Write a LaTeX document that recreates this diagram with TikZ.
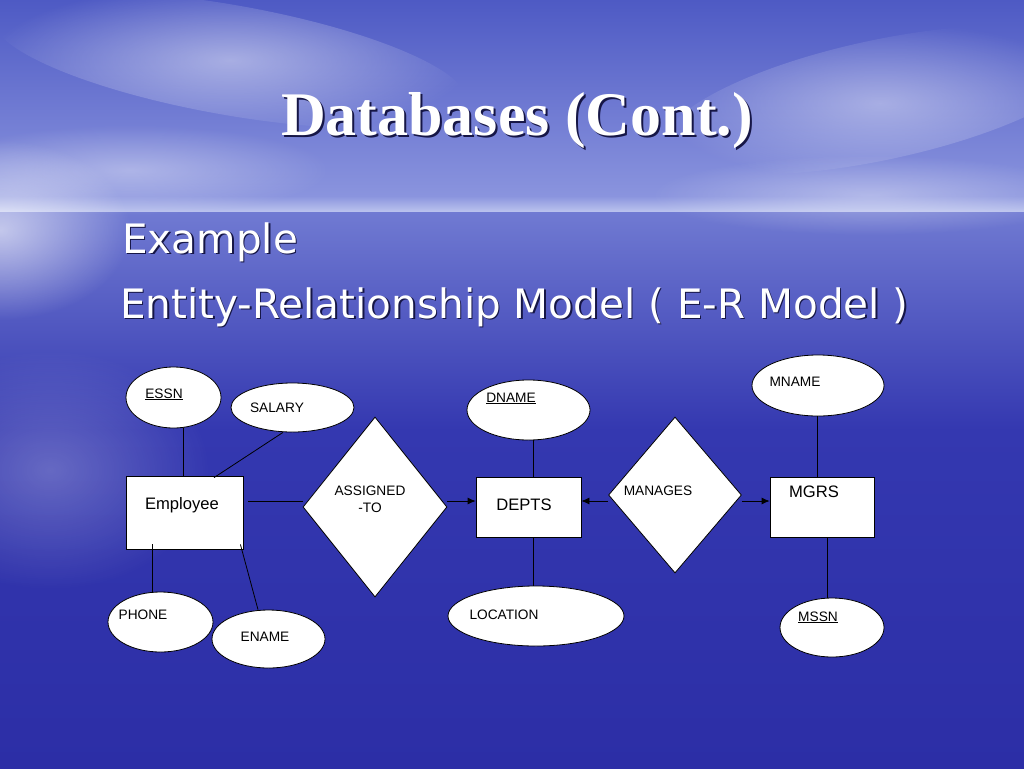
\documentclass[tikz,border=0pt]{standalone}
\usepackage{fontspec}
\setmainfont{Liberation Sans}
\newfontfamily\titlefont{Liberation Serif}
\newfontfamily\bodyfont{DejaVu Sans}
\usetikzlibrary{shapes.geometric,arrows.meta,fadings}
\tikzfading[name=soft,inner color=transparent!0,outer color=transparent!100]
\definecolor{skytop}{RGB}{78,90,196}
\definecolor{skylow}{RGB}{138,148,222}
\definecolor{horizon}{RGB}{188,196,238}
\definecolor{seatop}{RGB}{112,122,210}
\definecolor{seamid}{RGB}{52,56,176}
\definecolor{seadeep}{RGB}{44,46,166}
\definecolor{shade}{RGB}{22,22,70}
\tikzset{
  attr/.style={draw=black,fill=white,ellipse,inner sep=0pt,line width=0.8pt},
  entity/.style={draw=black,fill=white,rectangle,inner sep=0pt,line width=0.8pt},
  rel/.style={draw=black,fill=white,diamond,inner sep=0pt,line width=0.8pt},
  lbl/.style={anchor=base,inner sep=0pt,font=\fontsize{13.7}{14}\selectfont},
  big/.style={anchor=base,inner sep=0pt,font=\fontsize{16.6}{17}\selectfont},
  link/.style={draw=black,line width=0.8pt},
  flow/.style={link,-{Latex[length=8pt,width=7pt]}},
  cloud/.style={fill=white,path fading=soft}
}
\begin{document}
\begin{tikzpicture}[x=1pt,y=-1pt]
\useasboundingbox (0,0) rectangle (1024,768);
\shade [top color=skytop,bottom color=skylow] (0,0) rectangle (1024,196);
\shade [top color=skylow,bottom color=horizon] (0,196) rectangle (1024,212);
\shade [top color=seatop,bottom color=seamid] (0,212) rectangle (1024,430);
\shade [top color=seamid,bottom color=seadeep] (0,430) rectangle (1024,768);
\fill [cloud,opacity=0.45,rotate around={-10:(230,60)}] (230,60) ellipse (240 and 55);
\fill [cloud,opacity=0.4,rotate around={12:(880,100)}] (880,100) ellipse (220 and 60);
\fill [cloud,opacity=0.35] (130,170) ellipse (200 and 45);
\fill [cloud,opacity=0.35] (870,195) ellipse (220 and 40);
\fill [cloud,opacity=0.6] (0,230) ellipse (130 and 90);
\fill [cloud,opacity=0.25] (50,470) ellipse (160 and 120);

\node [anchor=base,text=shade,font=\titlefont\bfseries\fontsize{62}{62}\selectfont] (titles) at (519,137) {Databases (Cont.)};
\node [anchor=base,text=white,font=\titlefont\bfseries\fontsize{62}{62}\selectfont] (title) at (517,135) {Databases (Cont.)};
\node [anchor=base west,inner sep=0pt,text=shade,font=\bodyfont\fontsize{40.5}{40.5}\selectfont] (exs) at (123.5,254.5) {Example};
\node [anchor=base west,inner sep=0pt,text=white,font=\bodyfont\fontsize{40.5}{40.5}\selectfont] (ex) at (122,253) {Example};
\node [anchor=base west,inner sep=0pt,text=shade,font=\bodyfont\fontsize{40.5}{40.5}\selectfont] (ers) at (121.5,319.5) {Entity-Relationship Model ( E-R Model )};
\node [anchor=base west,inner sep=0pt,text=white,font=\bodyfont\fontsize{40.5}{40.5}\selectfont] (er) at (120,318) {Entity-Relationship Model ( E-R Model )};

\coordinate (row) at (0,501);
\node [attr,minimum width=95,minimum height=61] (essn) at (173.5,397.5) {};
\node [attr,minimum width=123,minimum height=49] (salary) at (292.5,407.5) {};
\node [attr,minimum width=105,minimum height=60] (phone) at (160.5,622) {};
\node [attr,minimum width=113,minimum height=58] (ename) at (268.5,639) {};
\node [attr,minimum width=123,minimum height=60] (dname) at (528.5,410) {};
\node [attr,minimum width=176,minimum height=60] (location) at (536,616) {};
\node [attr,minimum width=132,minimum height=61] (mname) at (818,385.5) {};
\node [attr,minimum width=104,minimum height=59] (mssn) at (832,627.5) {};
\node [entity,minimum width=117,minimum height=73] (employee) at (184.5,512.5) {};
\node [entity,minimum width=105,minimum height=60] (depts) at (528.5,507) {};
\node [entity,minimum width=104,minimum height=60] (mgrs) at (822,507) {};
\node [rel,minimum width=144,minimum height=180] (assigned) at (375,507) {};
\node [rel,minimum width=133,minimum height=156] (manages) at (675,495) {};

\node [lbl] (essnt) at (164,398) {\underline{ESSN}};
\node [lbl] (salaryt) at (277,412) {SALARY};
\node [lbl] (phonet) at (143,619) {PHONE};
\node [lbl] (enamet) at (265,641) {ENAME};
\node [lbl] (dnamet) at (511,402) {\underline{DNAME}};
\node [lbl] (locationt) at (504,619) {LOCATION};
\node [lbl] (mnamet) at (795,386) {MNAME};
\node [lbl] (mssnt) at (818,621) {\underline{MSSN}};
\node [lbl] (assignedt) at (370,495) {ASSIGNED};
\node [lbl] (tot) at (370,512) {-TO};
\node [lbl] (managest) at (658,495) {MANAGES};
\node [big] (employeet) at (182,509) {Employee};
\node [big] (deptst) at (524,510) {DEPTS};
\node [big] (mgrst) at (814,497) {MGRS};

\draw [link] ([xshift=-1.5pt]employee.north) -- ([xshift=-1.5pt]employee.north |- essn.south);
\draw [link] ([xshift=-9.5pt]salary.south) -- ([xshift=29.5pt,yshift=-2pt]employee.north);
\draw [link] ([xshift=-8.5pt]phone.north) -- ([xshift=-8.5pt,yshift=5pt]phone.north |- employee.south);
\draw [link] ([xshift=-10.5pt]ename.north) -- ([xshift=-3pt,yshift=5pt]employee.south east);
\draw [link] ([xshift=5pt]employee.east |- row) -- (assigned.west |- row);
\draw [flow] (assigned.east |- row) -- (depts.west |- row);
\draw [flow] (manages.west |- row) -- (depts.east |- row);
\draw [flow] (manages.east |- row) -- (mgrs.west |- row);
\draw [link] ([xshift=4.5pt]depts.north) -- ([xshift=4.5pt]depts.north |- dname.south);
\draw [link] ([xshift=4.5pt]depts.south) -- ([xshift=4.5pt]depts.south |- location.north);
\draw [link] ([xshift=-5pt]mgrs.north) -- ([xshift=-5pt]mgrs.north |- mname.south);
\draw [link] ([xshift=5pt]mgrs.south) -- ([xshift=5pt]mgrs.south |- mssn.north);
\end{tikzpicture}
\end{document}
